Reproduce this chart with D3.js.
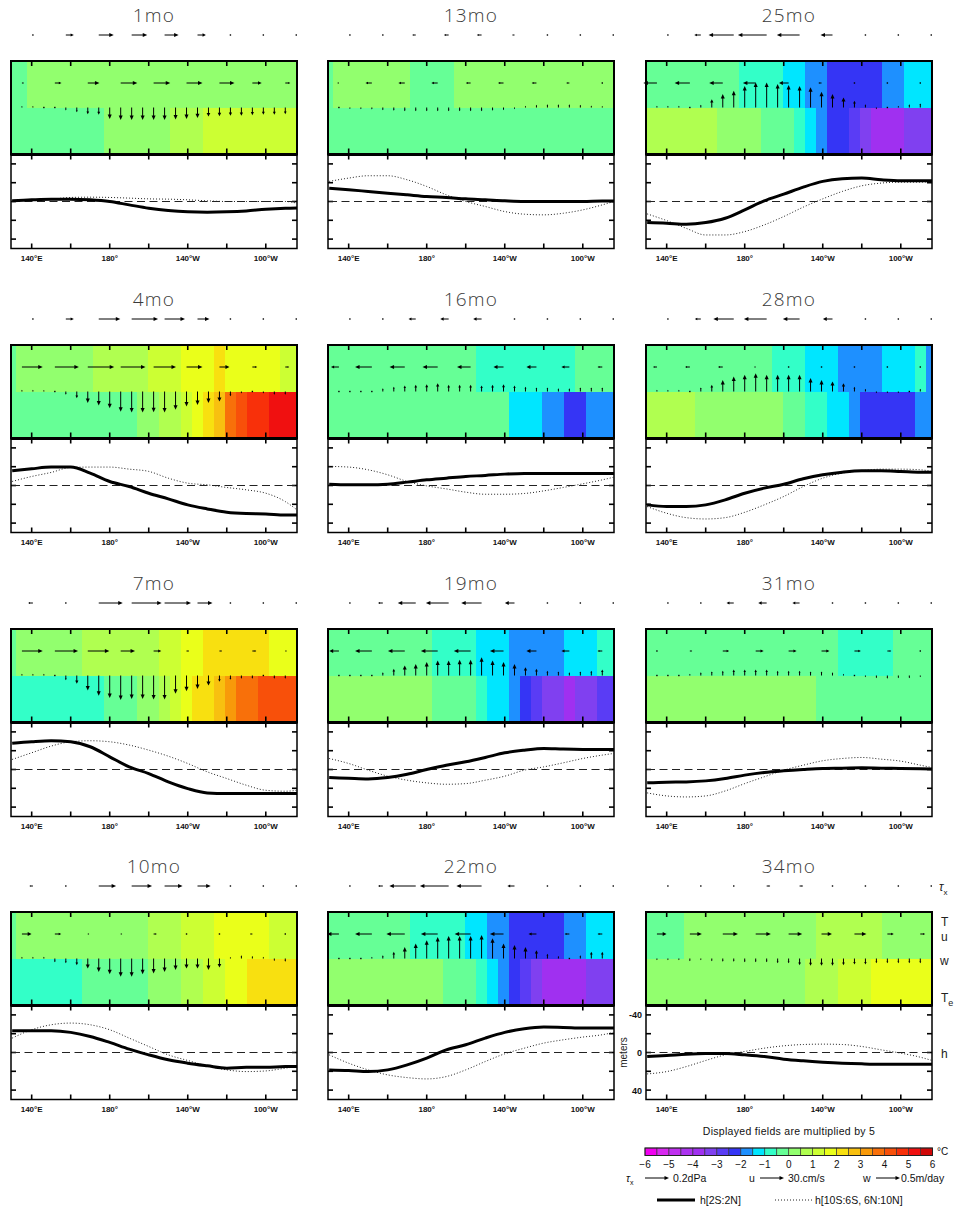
<!DOCTYPE html>
<html><head><meta charset="utf-8">
<script src="https://cdn.jsdelivr.net/npm/d3@7/dist/d3.min.js"></script>
<style>
body{margin:0;background:#fff;}
svg{display:block;font-family:"Liberation Sans",Arial,sans-serif;}
.title{font-family:"Open Sans","Liberation Sans",sans-serif;font-weight:300;font-size:19px;letter-spacing:1.2px;fill:#3a3a3a;}
.xl{font-size:8px;font-weight:bold;fill:#111;}
.lab{font-size:12px;fill:#222;}
.leg{font-size:10.5px;fill:#111;}
</style></head>
<body><svg id="chart" width="959" height="1208"></svg>
<script>
// ---------------- DATA ----------------
const months = ["1mo","4mo","7mo","10mo","13mo","16mo","19mo","22mo","25mo","28mo","31mo","34mo"];
const lonH = [130,140,150,160,170,180,190,200,210,220,230,240,250,260,270,276];
const xTickLon = [140,160,180,200,220,240,260];
const xLabelLon = [140,180,220,260];
const xLabelText = ["140°E","180°","140°W","100°W"];
const hTicks = [-40,-20,0,20,40];
const hLabelTicks = [-40,0,40];
const levelBreaks = [-5.5,-5,-4.5,-4,-3.5,-3,-2.5,-2,-1.5,-1,-0.5,0,0.5,1,1.5,2,2.5,3,3.5,4,4.5,5,5.5];
const colorbarLabels = [-6,-5,-4,-3,-2,-1,0,1,2,3,4,5,6];
const palette = ["#f000f0","#d828f0","#c030f0","#ac32f0","#a030f0","#8040f0","#5a3cf5","#3535f5",
                 "#1e90ff","#00e6ff","#33ffc8","#66ff96","#92ff6e","#b0ff50","#ccff33","#eaff1a",
                 "#f8e010","#f8c010","#f89a0a","#f8700a","#f8500a","#f8300a","#f01010","#d00808"];

// Upper-layer temperature T (°C x5), one value per 5.625° grid cell (27 cells)
const T_upper = [
 [-.25,-.25,.25,.25,.25,.25,.25,.25,.25,.25,.25,.25,.25,.25,.25,.25,.25,.25,.25,.25,.25,.25,.25,.25,.25,.25,.25],
 [-.25,.25,.25,.25,.25,.25,.25,.25,.75,.75,.75,.75,.75,1.25,1.25,1.25,1.75,1.75,1.75,2.25,1.75,1.75,1.75,1.75,1.75,1.25,1.25],
 [-.25,.25,.25,.25,.25,.25,.25,.75,.75,.75,.75,.75,.75,.75,1.25,1.25,1.75,1.75,2.25,2.25,2.25,2.25,2.25,2.25,1.75,1.75,1.75],
 [-.25,.25,.25,.25,.25,.25,.25,.25,.25,.25,.25,.25,.25,.75,.75,.75,1.25,1.25,1.25,1.75,1.75,1.75,1.75,1.75,1.25,1.25,1.25],
 [-.25,.25,.25,.25,.25,.25,.25,.25,-.25,-.25,-.25,-.25,.25,.25,.25,.25,.25,.25,.25,.25,.25,.25,.25,.25,.25,.25,.25],
 [-.25,-.25,-.25,-.25,-.25,-.25,-.25,-.25,-.25,-.25,-.25,-.25,-.25,-.25,-.75,-.75,-.75,-.75,-.75,-.75,-.75,-.75,-.75,-.25,-.25,-.25,-.25],
 [-.25,-.25,-.25,-.25,-.25,-.25,-.25,-.25,-.25,-.25,-.75,-.75,-.75,-.75,-1.25,-1.25,-1.25,-1.75,-1.75,-1.75,-1.75,-1.75,-1.25,-1.25,-1.25,-.75,-.75],
 [-.25,-.25,-.25,-.25,-.25,-.25,-.25,-.25,-.75,-.75,-.75,-.75,-.75,-1.25,-1.25,-1.75,-1.75,-2.25,-2.25,-2.25,-2.25,-2.25,-1.75,-1.75,-1.25,-1.25,-1.25],
 [-.25,-.25,-.25,-.25,-.25,-.25,-.25,-.25,-.25,-.75,-.75,-.75,-.75,-1.25,-1.25,-1.75,-1.75,-2.25,-2.25,-2.25,-2.25,-2.25,-1.75,-1.75,-1.25,-1.25,-1.25],
 [-.25,-.25,-.25,-.25,-.25,-.25,-.25,-.25,-.25,-.25,-.25,-.25,-.75,-.75,-.75,-1.25,-1.25,-1.25,-1.75,-1.75,-1.75,-1.75,-1.25,-1.25,-1.25,-.75,-1.75],
 [-.25,-.25,-.25,-.25,-.25,-.25,-.25,-.25,-.25,-.25,-.25,-.25,-.25,-.25,-.25,-.25,-.25,-.25,-.75,-.75,-.75,-.75,-.75,-.25,-.25,-.25,-.25],
 [-.25,-.25,-.25,-.25,.25,.25,.25,.25,.25,.25,.25,.25,.25,.25,.25,.25,.75,.75,.75,.75,.75,.75,.25,.25,.25,.25,.25]
];
// Entrainment temperature Te (°C x5)
const T_e = [
 [-.25,-.25,-.25,-.25,-.25,-.25,-.25,-.25,-.25,.25,.25,.25,.25,.25,.25,.75,.75,.75,1.25,1.25,1.25,1.25,1.25,1.25,1.25,1.25,1.25],
 [-.25,-.25,-.25,-.25,-.25,-.25,-.25,-.25,-.25,-.25,-.25,-.25,.25,.25,.75,.75,1.25,1.75,2.25,2.75,3.75,4.25,4.75,4.75,5.25,5.25,5.25],
 [-.75,-.75,-.75,-.75,-.75,-.75,-.75,-.75,-.75,-.25,-.25,-.25,.25,.25,.75,1.25,1.75,2.25,2.25,2.75,3.25,3.75,3.75,4.25,4.25,4.25,4.25],
 [-.75,-.75,-.75,-.75,-.75,-.75,-.75,-.25,-.25,-.25,-.25,-.25,-.25,.25,.25,.25,.75,.75,1.25,1.25,1.75,1.75,2.25,2.25,2.25,2.25,2.25],
 [-.25,-.25,-.25,-.25,-.25,-.25,-.25,-.25,-.25,-.25,-.25,-.25,-.25,-.25,-.25,-.25,-.25,-.25,-.25,-.25,-.25,-.25,-.25,-.25,-.25,-.25,-.25],
 [-.25,-.25,-.25,-.25,-.25,-.25,-.25,-.25,-.25,-.25,-.25,-.25,-.25,-.25,-.25,-.25,-.25,-1.25,-1.25,-1.25,-1.75,-1.75,-2.25,-2.25,-1.75,-1.75,-1.75],
 [.25,.25,.25,.25,.25,.25,.25,.25,.25,.25,-.25,-.25,-.25,-.25,-.75,-1.25,-1.25,-1.75,-2.25,-2.75,-3.25,-3.25,-3.75,-3.25,-3.25,-2.75,-2.75],
 [.25,.25,.25,.25,.25,.25,.25,.25,.25,.25,.25,-.25,-.25,-.25,-.75,-1.25,-1.75,-2.25,-2.75,-3.25,-3.75,-3.75,-3.75,-3.75,-3.25,-3.25,-3.25],
 [.75,.75,.75,.75,.75,.75,.75,.25,.25,.25,.25,-.25,-.25,-.25,-.75,-1.25,-1.75,-2.25,-2.25,-2.75,-3.25,-3.75,-3.75,-3.75,-3.25,-3.25,-3.25],
 [.75,.75,.75,.75,.75,.25,.25,.25,.25,.25,.25,.25,.25,-.25,-.25,-.75,-.75,-1.25,-1.25,-1.75,-2.25,-2.25,-2.25,-2.25,-2.25,-1.75,-1.75],
 [.25,.25,.25,.25,.25,.25,.25,.25,.25,.25,.25,.25,.25,.25,.25,.25,-.25,-.25,-.25,-.25,-.25,-.25,-.25,-.25,-.25,-.25,-.25],
 [.25,.25,.25,.25,.25,.25,.25,.25,.25,.25,.25,.25,.25,.25,.25,.75,.75,.75,1.25,1.25,1.25,1.75,1.75,1.75,1.75,1.75,1.75]
];
// Vertical velocity w (m/day x5, positive = upwelling), 26 grid points
const w_vel = [
 [0.02,0.03,0.03,0.02,0,-0.06,-0.1,-0.14,-0.15,-0.24,-0.26,-0.26,-0.26,-0.26,-0.26,-0.25,-0.24,-0.22,-0.19,-0.18,-0.17,-0.17,-0.16,-0.15,-0.15,-0.14],
 [0.035,0.035,0.035,0.03,0,-0.07,-0.14,-0.24,-0.29,-0.35,-0.42,-0.44,-0.44,-0.43,-0.44,-0.38,-0.31,-0.28,-0.24,-0.21,-0.1,-0.04,0.02,-0.04,-0.07,-0.07],
 [0.035,0.035,0.035,0.035,0.015,-0.1,-0.17,-0.31,-0.42,-0.47,-0.51,-0.49,-0.49,-0.5,-0.5,-0.38,-0.33,-0.28,-0.21,-0.13,-0.09,-0.07,-0.07,0.02,-0.07,-0.07],
 [0.015,0.035,0.035,0.035,-0.08,-0.1,-0.14,-0.21,-0.28,-0.33,-0.38,-0.38,-0.33,-0.31,-0.28,-0.24,-0.21,-0.21,-0.24,-0.19,0.03,0.07,0.05,0.035,-0.05,-0.07],
 [-0.015,-0.02,-0.03,-0.035,-0.04,-0.055,-0.07,-0.08,-0.08,-0.08,-0.08,-0.08,-0.08,-0.08,-0.08,-0.07,-0.055,-0.035,0.035,0.055,0.07,0.07,0.07,0.055,0.04,0.03],
 [0.01,0.01,0.01,0.01,0.015,0.07,0.1,0.125,0.14,0.15,0.17,0.14,0.14,0.14,0.125,0.14,0.15,0.125,0.1,0.085,0.085,0.07,0.07,0.085,0.085,0.085],
 [0.015,0.02,0.02,0.02,0.02,0.07,0.14,0.21,0.24,0.28,0.31,0.31,0.33,0.33,0.38,0.31,0.28,0.24,0.17,0.14,0.1,0.085,0.07,0.085,0.1,0.125],
 [0.02,0.02,0.02,0.015,0.035,0.07,0.14,0.24,0.31,0.38,0.45,0.47,0.47,0.47,0.49,0.42,0.31,0.28,0.24,0.17,0.1,0.05,0.02,0.07,0.14,0.14],
 [0.035,0.035,0.035,0.035,0.015,0.055,0.17,0.28,0.35,0.45,0.52,0.52,0.49,0.47,0.45,0.42,0.33,0.28,0.21,0.14,0.07,-0.035,0.02,0.035,0.07,0.085],
 [0.035,0.035,0.035,0.035,0.015,0.085,0.14,0.24,0.31,0.35,0.38,0.35,0.35,0.35,0.35,0.28,0.24,0.21,0.17,0.1,0.055,-0.035,-0.035,-0.035,0.02,0.055],
 [0.01,0.01,0.015,0.02,0.035,0.07,0.085,0.1,0.125,0.125,0.125,0.125,0.1,0.1,0.1,0.085,0.085,0.07,0.035,-0.02,-0.035,-0.055,-0.07,-0.055,-0.055,-0.035],
 [-0.02,-0.035,-0.035,-0.035,-0.055,-0.035,-0.055,-0.07,-0.07,-0.08,-0.08,-0.08,-0.1,-0.1,-0.14,-0.15,-0.15,-0.15,-0.14,-0.125,-0.125,-0.1,-0.1,-0.1,-0.1,-0.1]
];
// Zonal current u (cm/s x5), 9 points
const u_vel = [
 [2.5,8.3,14.6,20.8,20.8,20,18.8,11.7,6.3],
 [26,30,33,31,28,20,12.5,6,5],
 [26,29,27,18,9.6,3.3,3.3,5,2],
 [12,8,2,2,4,1,1,-3,1],
 [-2,-8,-8,-8,-6,-7,-6,-4,-1],
 [-10,-21,-19,-19,-17,-12.5,-12.5,-10,-6],
 [-12,-21,-21,-21,-21,-17,-12.5,-10,-6],
 [-15,-21,-23,-21,-20,-17,-10,-6,-6],
 [-17,-19,-17,-16,-12,-4,-1,-1,-1],
 [-5,-6,-6,-2,-1,-1,-1,-1,-1],
 [1,3,8,10,10,10,8,5,1],
 [12,15,19,19,17,13,15,8,6]
];
// Zonal wind stress tau_x (dPa x5), 9 points
const tau_x = [
 [0.005,0.067,0.125,0.13,0.117,0.07,0.005,0.005,0.005],
 [0.005,0.067,0.18,0.22,0.17,0.1,0.005,0.005,0.005],
 [-0.04,0.01,0.2,0.25,0.22,0.125,0.005,0.005,0.005],
 [-0.03,0.005,0.145,0.17,0.15,0.11,0.005,0.005,0.005],
 [-0.01,-0.005,-0.03,-0.04,-0.04,-0.02,-0.01,-0.005,0.005],
 [-0.005,-0.005,-0.06,-0.07,-0.07,-0.01,-0.005,-0.005,0.005],
 [-0.005,-0.04,-0.15,-0.19,-0.17,-0.08,-0.005,-0.005,0.005],
 [-0.005,-0.04,-0.22,-0.24,-0.21,-0.06,-0.005,-0.005,0.005],
 [-0.005,-0.055,-0.21,-0.24,-0.19,-0.1,-0.005,-0.005,0.005],
 [-0.005,-0.05,-0.17,-0.19,-0.14,-0.08,-0.005,-0.005,0.005],
 [-0.005,-0.005,-0.06,-0.07,-0.06,-0.01,-0.005,-0.005,0.005],
 [0.005,0.005,0.005,0.03,0.03,0.01,0.005,0.005,0.005]
];
// Thermocline depth anomaly h (meters), equatorial band 2S:2N, at lonH
const h_eq = [
 [-0.7,-1.8,-2.5,-2.5,-1.8,0,3.6,7.1,9.6,11,11.4,11,10,8.2,7.1,6.8],
 [-15.7,-17.8,-19.6,-19.6,-13.2,-4.3,1.1,8.2,14.2,20.6,24.9,28.5,29.9,30.3,31.3,31.3],
 [-27.8,-29.5,-30.6,-29.5,-24.2,-13.5,-2.8,4.3,13.2,20.3,24.9,25.6,25.6,25.6,25.6,25.6],
 [-23.1,-23.1,-23.1,-21.4,-17.1,-10.7,-3.6,2.5,7.8,11.4,14.2,16.7,15.7,15.7,15,15],
 [-14.2,-12.5,-10.7,-8.9,-7.1,-5.3,-4.3,-2.8,-1.8,-0.7,0,0,0,0,-0.4,-0.4],
 [-1.4,-0.7,-0.7,-1.4,-3.6,-6,-7.8,-9.6,-10.7,-12.1,-12.8,-12.8,-12.8,-12.8,-12.8,-12.8],
 [8.5,9.3,10,8.5,5,0,-4.6,-8.2,-12.8,-17.8,-20.6,-22.4,-21.7,-21.4,-21.4,-21.4],
 [18.5,19.2,20.3,18.5,13.2,6,-2.8,-8.2,-15.3,-21.4,-25.3,-27,-26.7,-26,-26,-26],
 [22.4,23.1,24.2,22.4,17.8,8.9,-0.7,-7.8,-15.3,-21.4,-24.2,-24.9,-23.1,-22.1,-22.1,-22.1],
 [20.6,22.4,22.4,20.6,15.3,8.2,2.8,-1.4,-7.1,-11.4,-14.2,-15.7,-15.7,-15,-14.2,-14.2],
 [14.2,13.5,13.2,12.1,9.6,6,3.2,1.4,0,-1.1,-1.4,-1.8,-1.4,-1.1,-0.7,-0.4],
 [4.3,3.2,1.8,1.1,1.1,2.5,4.3,7.1,8.9,10.3,11.4,12.1,12.5,12.5,12.5,12.5]
];
// h off-equatorial bands 10S:6S, 6N:10N
const h_off = [
 [-0.7,-1.8,-2.5,-4.3,-4.6,-4.3,-3.6,-2.8,-2.5,-1.8,-0.7,0,0,0,0,1.8],
 [-4.3,-9.6,-13.9,-19.2,-19.6,-19.6,-17.4,-15,-7.8,-2.5,-0.7,2.1,4.6,8.2,17.1,26],
 [-10.7,-17.8,-24.9,-29.5,-30.6,-29.5,-26,-20.6,-14.2,-6.4,2.5,9.6,16.7,22.1,23.1,22.1],
 [-15.3,-24.2,-29.5,-31.3,-29.5,-24.2,-15.3,-6.4,2.5,8.5,14.2,18.5,20.3,19.6,16.7,15],
 [-21.4,-24.9,-27.4,-27.4,-23.1,-16,-7.1,0,5.3,10.7,13.5,14.2,12.5,8.9,3.6,0],
 [-20.3,-19.6,-16.7,-11.4,-4.3,0.4,3.6,7.1,9.3,9.3,8.5,5.7,2.1,-1.8,-6,-8.9],
 [-11.7,-6.4,0.7,7.1,11.4,14.2,15.7,15,11.4,7.1,0.7,-2.8,-7.1,-11.7,-15.3,-17.1],
 [2.5,11.4,18.5,23.8,26.7,28.1,25.6,18.5,9.6,1.4,-4.6,-10,-13.5,-16.4,-18.9,-21.4],
 [13.2,20.3,28.5,35.6,35.6,32,24.9,16,6,-2.8,-10.7,-16.7,-19.6,-20.6,-20.6,-21.4],
 [22.4,29.5,34.2,35.6,34.2,28.5,20.6,11.7,1.1,-7.8,-13.2,-15.7,-17.4,-17.4,-16.7,-15],
 [24.9,28.1,29.2,28.1,22.8,15,7.8,0.7,-4.6,-9.3,-11.7,-12.8,-11,-8.9,-4.6,-2.1],
 [22.8,20.3,15,8.5,2.5,-1.1,-4.6,-7.1,-8.5,-8.9,-8.5,-6.4,-2.8,0.7,5,8.5]
];

// ---------------- LAYOUT ----------------
const colLeft = [11, 328, 646], boxW = 286;
const rowTop = [61, 345, 629, 912];
const upH = 93.5, splitH = 46.5, lowH = 94;
const lonDomain = [129.4, 276];
const cellW = 5.625;
const cellLon = d3.range(27).map(i => 129.375 + cellW * i);
const wIdx = d3.range(0, 26);
const uIdx = d3.range(1, 26, 3);
const tIdx = d3.range(2, 27, 3);

const svg = d3.select("#chart");
svg.append("rect").attr("width", 959).attr("height", 1208).attr("fill", "#fff");
const color = d3.scaleThreshold().domain(levelBreaks).range(palette);
const txLen = d3.scaleLinear().domain([0, 0.2]).range([0, 24]);
const uLen = d3.scaleLinear().domain([0, 30]).range([0, 24]);
const wLen = d3.scaleLinear().domain([0, 0.5]).range([0, 24]);

function arrow(g, x0, y0, dx, dy) {
  const L = Math.hypot(dx, dy);
  if (L < 1.3) {
    g.append("rect").attr("x", x0 - 0.7).attr("y", y0 - 0.7).attr("width", 1.4).attr("height", 1.4).attr("fill", "#000");
    return;
  }
  const ux = dx / L, uy = dy / L;
  const hl = Math.min(4.5, L * 0.4), hw = Math.min(2, hl * 0.5);
  const x1 = x0 + dx, y1 = y0 + dy;
  g.append("line").attr("x1", x0).attr("y1", y0)
    .attr("x2", x1 - ux * hl * 0.7).attr("y2", y1 - uy * hl * 0.7)
    .attr("stroke", "#000").attr("stroke-width", 1);
  const bx = x1 - ux * hl, by = y1 - uy * hl;
  g.append("path").attr("d", `M${x1},${y1}L${bx - uy * hw},${by + ux * hw}L${bx + uy * hw},${by - ux * hw}Z`).attr("fill", "#000");
}

months.forEach((m, i) => {
  const col = Math.floor(i / 4), row = i % 4;
  const L = colLeft[col], top = rowTop[row];
  const x = d3.scaleLinear().domain(lonDomain).range([L, L + boxW]);
  const ySplit = top + splitH, yMid = top + upH, yBot = yMid + lowH;
  const hY = d3.scaleLinear().domain([-50, 50]).range([yMid, yBot]);
  const g = svg.append("g");

  g.append("text").attr("class", "title").attr("x", L + boxW / 2).attr("y", top - 39.5)
    .attr("text-anchor", "middle").text(m);

  // colour cells
  const clipId = "clip" + i;
  svg.append("clipPath").attr("id", clipId).append("rect")
    .attr("x", L).attr("y", top).attr("width", boxW).attr("height", upH);
  const cg = g.append("g").attr("clip-path", `url(#${clipId})`).attr("shape-rendering", "crispEdges");
  cellLon.forEach((c, k) => {
    const x0 = x(c - cellW / 2), x1 = x(c + cellW / 2);
    cg.append("rect").attr("x", x0).attr("y", top).attr("width", x1 - x0 + 0.5).attr("height", splitH)
      .attr("fill", color(T_upper[i][k]));
    cg.append("rect").attr("x", x0).attr("y", ySplit).attr("width", x1 - x0 + 0.5).attr("height", upH - splitH)
      .attr("fill", color(T_e[i][k]));
  });

  // frames
  g.append("rect").attr("x", L).attr("y", top).attr("width", boxW).attr("height", upH)
    .attr("fill", "none").attr("stroke", "#000").attr("stroke-width", 2);
  g.append("rect").attr("x", L).attr("y", yMid).attr("width", boxW).attr("height", lowH)
    .attr("fill", "none").attr("stroke", "#000").attr("stroke-width", 1.5);
  g.append("line").attr("x1", L).attr("x2", L + boxW).attr("y1", yMid).attr("y2", yMid)
    .attr("stroke", "#000").attr("stroke-width", 3);

  // ticks
  xTickLon.forEach(lon => {
    const xx = x(lon);
    [[top, top + 5], [yMid - 6, yMid], [yMid, yMid + 5], [yBot - 5, yBot]].forEach(([a, b]) => {
      g.append("line").attr("x1", xx).attr("x2", xx).attr("y1", a).attr("y2", b)
        .attr("stroke", "#000").attr("stroke-width", 1.6);
    });
  });
  hTicks.forEach(v => {
    const yy = hY(v);
    g.append("line").attr("x1", L).attr("x2", L + 5).attr("y1", yy).attr("y2", yy).attr("stroke", "#000").attr("stroke-width", 1.6);
    g.append("line").attr("x1", L + boxW - 5).attr("x2", L + boxW).attr("y1", yy).attr("y2", yy).attr("stroke", "#000").attr("stroke-width", 1.6);
  });
  xLabelLon.forEach((lon, k) => {
    g.append("text").attr("class", "xl").attr("x", x(lon)).attr("y", yBot + 12)
      .attr("text-anchor", "middle").text(xLabelText[k]);
  });

  // h lines
  g.append("line").attr("x1", L + 1).attr("x2", L + boxW - 1).attr("y1", hY(0)).attr("y2", hY(0))
    .attr("stroke", "#222").attr("stroke-width", 1).attr("stroke-dasharray", "8,4.5");
  const line = d3.line().x((d, k) => x(lonH[k])).y(d => hY(d)).curve(d3.curveMonotoneX);
  g.append("path").attr("d", line(h_off[i])).attr("fill", "none").attr("stroke", "#222")
    .attr("stroke-width", 1).attr("stroke-dasharray", "1,2");
  g.append("path").attr("d", line(h_eq[i])).attr("fill", "none").attr("stroke", "#000")
    .attr("stroke-width", 3).attr("stroke-linejoin", "round");

  // arrows
  const ag = g.append("g");
  tIdx.forEach((ci, k) => arrow(ag, x(cellLon[ci]), top - 26, txLen(tau_x[i][k]), 0));
  uIdx.forEach((ci, k) => arrow(ag, x(cellLon[ci]), top + 22, uLen(u_vel[i][k]), 0));
  wIdx.forEach((ci, k) => arrow(ag, x(cellLon[ci]), ySplit, 0, -wLen(w_vel[i][k])));

  // side annotations on last panel
  if (i === months.length - 1) {
    hLabelTicks.forEach(v => {
      g.append("text").attr("class", "xl").style("font-size", "9px").attr("x", L - 4).attr("y", hY(v) + 3.5)
        .attr("text-anchor", "end").text(v);
    });
    g.append("text").attr("transform", `translate(${L - 19},${hY(0)}) rotate(-90)`)
      .attr("text-anchor", "middle").style("font-size", "10px").attr("fill", "#222").text("meters");
    const rx = L + boxW + 7;
    const t1 = g.append("text").attr("class", "lab").attr("x", rx).attr("y", top - 21);
    t1.append("tspan").style("font-style", "italic").text("τ");
    t1.append("tspan").attr("dy", 4).style("font-size", "8px").text("x");
    g.append("text").attr("class", "lab").attr("x", rx + 2).attr("y", top + 14).text("T");
    g.append("text").attr("class", "lab").attr("x", rx + 2).attr("y", top + 29).text("u");
    g.append("text").attr("class", "lab").attr("x", rx + 1).attr("y", ySplit + 6).text("w");
    const t2 = g.append("text").attr("class", "lab").attr("x", rx + 2).attr("y", yMid - 4);
    t2.append("tspan").text("T");
    t2.append("tspan").attr("dy", 4).style("font-size", "9px").text("e");
    g.append("text").attr("class", "lab").attr("x", rx + 2).attr("y", hY(0) + 5).text("h");
  }
});

// ---------------- LEGEND ----------------
const lg = svg.append("g");
lg.append("text").attr("class", "leg").attr("x", 789).attr("y", 1135).attr("text-anchor", "middle")
  .style("letter-spacing", "0.3px").text("Displayed fields are multiplied by 5");
const cb = d3.scaleLinear().domain([-6, 6]).range([645, 932.5]);
const binLo = [-6].concat(levelBreaks);
binLo.forEach((v, k) => {
  lg.append("rect").attr("x", cb(v)).attr("y", 1148).attr("width", cb(v + 0.5) - cb(v)).attr("height", 7.5)
    .attr("fill", palette[k]).attr("stroke", "#333").attr("stroke-width", 0.6);
});
lg.append("rect").attr("x", cb(-6)).attr("y", 1148).attr("width", cb(6) - cb(-6)).attr("height", 7.5)
  .attr("fill", "none").attr("stroke", "#222").attr("stroke-width", 1);
colorbarLabels.forEach(v => {
  lg.append("text").attr("class", "leg").style("font-size", "10px").attr("x", cb(v)).attr("y", 1168)
    .attr("text-anchor", "middle").text(v < 0 ? "−" + Math.abs(v) : v);
});
lg.append("text").attr("class", "leg").style("font-size", "10px").attr("x", 937).attr("y", 1155).text("°C");

const ly = 1178;
const tl = lg.append("text").attr("class", "leg").attr("x", 626).attr("y", ly + 4);
tl.append("tspan").style("font-style", "italic").text("τ");
tl.append("tspan").attr("dy", 3).style("font-size", "7px").text("x");
arrow(lg, 645, ly, txLen(0.2), 0);
lg.append("text").attr("class", "leg").attr("x", 673).attr("y", ly + 4).text("0.2dPa");
lg.append("text").attr("class", "leg").attr("x", 749).attr("y", ly + 4).text("u");
arrow(lg, 760, ly, uLen(30), 0);
lg.append("text").attr("class", "leg").attr("x", 788).attr("y", ly + 4).text("30.cm/s");
lg.append("text").attr("class", "leg").attr("x", 863).attr("y", ly + 4).text("w");
arrow(lg, 876, ly, wLen(0.5), 0);
lg.append("text").attr("class", "leg").attr("x", 901).attr("y", ly + 4).text("0.5m/day");

const ly2 = 1200;
lg.append("line").attr("x1", 657).attr("x2", 695).attr("y1", ly2).attr("y2", ly2).attr("stroke", "#000").attr("stroke-width", 3);
lg.append("text").attr("class", "leg").attr("x", 700).attr("y", ly2 + 4).text("h[2S:2N]");
lg.append("line").attr("x1", 775).attr("x2", 812).attr("y1", ly2).attr("y2", ly2).attr("stroke", "#222")
  .attr("stroke-width", 1).attr("stroke-dasharray", "1,2");
lg.append("text").attr("class", "leg").attr("x", 815).attr("y", ly2 + 4).text("h[10S:6S, 6N:10N]");
</script>
</body></html>
